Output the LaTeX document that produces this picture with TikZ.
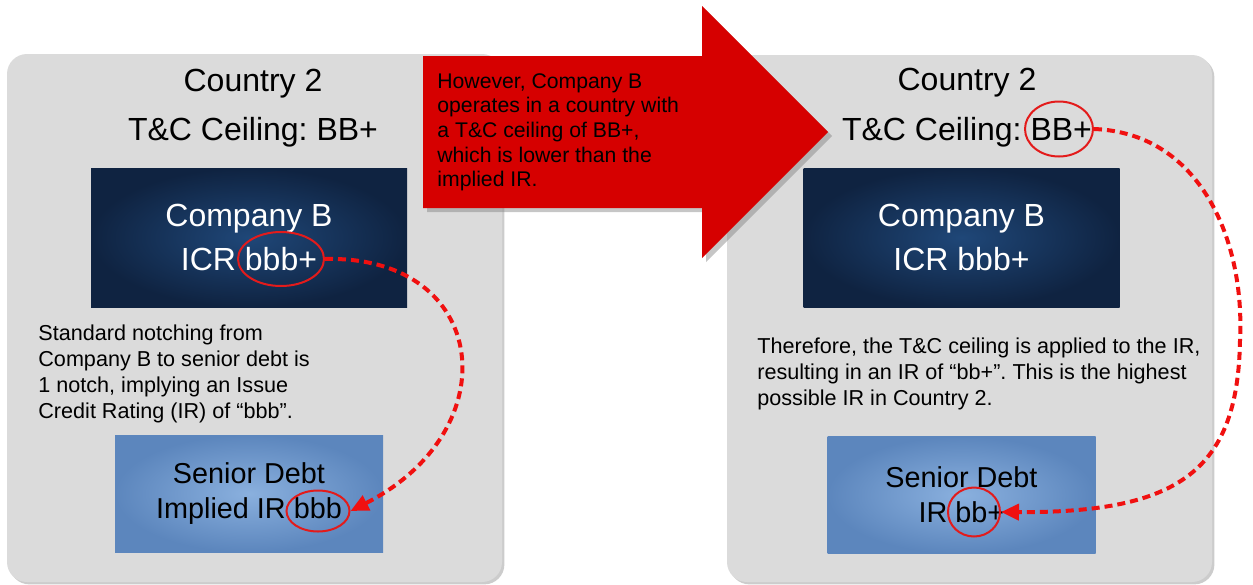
\documentclass[tikz,border=0pt]{standalone}
\usepackage{fontspec}
\setmainfont{Liberation Sans}
\usetikzlibrary{shapes.geometric,shadows,arrows.meta}

\definecolor{panelgray}{HTML}{DBDBDB}
\definecolor{navyin}{HTML}{1F4778}
\definecolor{navyout}{HTML}{0F2341}
\definecolor{steelin}{HTML}{8AB0DE}
\definecolor{steelout}{HTML}{5C86BD}
\definecolor{alertred}{HTML}{D60000}
\definecolor{ringred}{HTML}{E31B1B}
\definecolor{linkred}{HTML}{F01010}

\begin{document}
\frenchspacing
\begin{tikzpicture}[x=0.5pt,y=-0.5pt,
  panel/.style={fill=panelgray,rounded corners=10pt,
    drop shadow={shadow xshift=1.2pt,shadow yshift=-1.2pt,opacity=0.4}},
  title/.style={anchor=base,inner sep=0pt,font=\fontsize{16}{19}\selectfont},
  icrbox/.style={inner color=navyin,outer color=navyout,minimum width=158pt,
    minimum height=69.5pt,text=white,align=center,font=\fontsize{16}{22}\selectfont},
  debtbox/.style={inner color=steelin,outer color=steelout,minimum width=134pt,
    minimum height=58.5pt,align=center,font=\fontsize{14.4}{17.5}\selectfont},
  note/.style={anchor=north west,inner sep=0pt,align=left,font=\fontsize{10.8}{13}\selectfont},
  ring/.style={ellipse,draw=ringred,line width=1pt,inner sep=0pt},
  link/.style={draw=linkred,line width=2pt,dash pattern=on 4pt off 2.5pt,
    -{Triangle[length=9pt,width=8pt]}}
]
\useasboundingbox (0,0) rectangle (1253,584);

% country panels
\path[panel] (7,54) rectangle (502,582);
\path[panel] (727,55) rectangle (1212,582);

% big red arrow
\path[fill=alertred,drop shadow={shadow xshift=2pt,shadow yshift=-2pt,opacity=0.45}]
  (423,56) -- (702,56) -- (702,6) -- (828,132) -- (702,258) -- (702,208) -- (423,208) -- cycle;
\node[note,font=\fontsize{10.6}{12.3}\selectfont] (redtext) at (437,73)
  {However, Company B\\operates in a country with\\a T\&C ceiling of BB+,\\which is lower than the\\implied IR.};

% left panel
\node[title] (lefttitle) at (253,91) {Country 2};
\node[title] (leftceiling) at (253,140) {T\&C Ceiling: BB+};
\node[icrbox] (leftcompany) at (249,237.5) {Company B\\ICR bbb+};
\node[note] (leftnote) at (38,324) {Standard notching from\\Company B to senior debt is\\1 notch, implying an Issue\\Credit Rating (IR) of “bbb”.};
\node[debtbox] (leftdebt) at (249,493.5) {Senior Debt\\Implied IR bbb};

% right panel
\node[title] (righttitle) at (967,90) {Country 2};
\node[title] (rightceiling) at (967,140) {T\&C Ceiling: BB+};
\node[icrbox] (rightcompany) at (961.5,237.5) {Company B\\ICR bbb+};
\node[note] (rightnote) at (757,337) {Therefore, the T\&C ceiling is applied to the IR,\\resulting in an IR of “bb+”. This is the highest\\possible IR in Country 2.};
\node[debtbox] (rightdebt) at (961.5,495) {Senior Debt\\IR bb+};

% highlight rings
\node[ring,minimum width=43pt,minimum height=27pt] (ringicr) at (281,259) {};
\node[ring,minimum width=31.5pt,minimum height=20.5pt] (ringbbb) at (318,511) {};
\node[ring,minimum width=34pt,minimum height=27.5pt] (ringceiling) at (1059,129) {};
\node[ring,minimum width=26pt,minimum height=24.5pt] (ringbbplus) at (974,512) {};

% dashed links
\draw[link] (ringicr.east) .. controls (490,255) and (510,430) .. (ringbbb.east);
\draw[link] (ringceiling.east) .. controls (1200,133) and (1245,240) .. (1240,340)
  .. controls (1238,470) and (1180,513) .. (ringbbplus.east);
\end{tikzpicture}
\end{document}
